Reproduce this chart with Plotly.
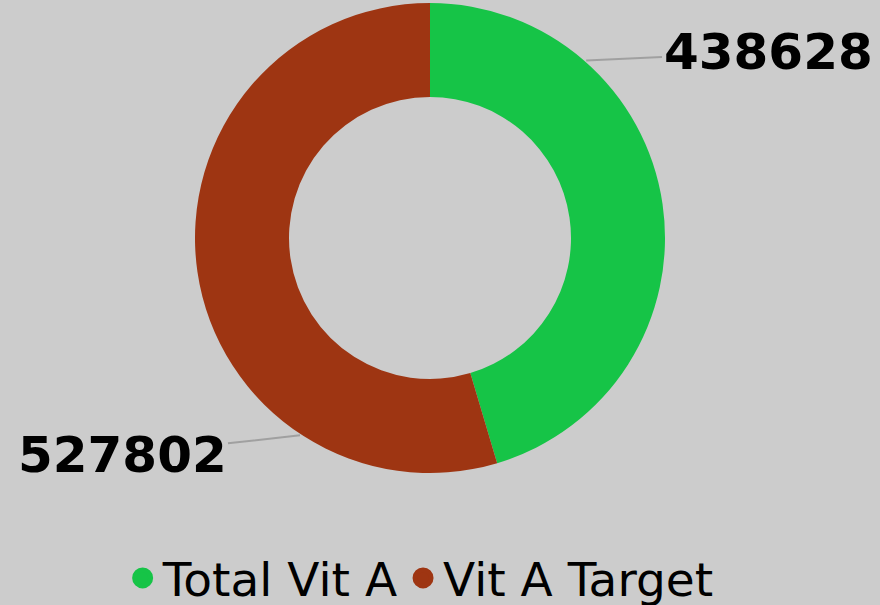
"""Vit A donut — total vs target"""
import math

import plotly.graph_objects as go

# data
labels = ["Total Vit A", "Vit A Target"]
values = [438628, 527802]
colors = ["#16c447", "#9e3512"]

# where the leader lines touch the ring (deg, clockwise from 12 o'clock)
label_angles = [41, 213]
# label centres in px
label_pos = [(768, 52), (122, 455)]

W, H = 880, 605
CX, CY, R = 430, 238, 235  # pie centre and radius in px

fig = go.Figure()

fig.add_trace(
    go.Pie(
        labels=labels,
        values=values,
        hole=0.6,
        sort=False,
        direction="clockwise",
        rotation=0,
        marker=dict(colors=colors, line=dict(width=0)),
        textinfo="none",
        hoverinfo="label+value",
        showlegend=False,
        domain=dict(
            x=[(CX - R) / W, (CX + R) / W],
            y=[(H - CY - R) / H, (H - CY + R) / H],
        ),
    )
)

# legend entries with round markers
for name, col in zip(labels, colors):
    fig.add_trace(
        go.Scatter(
            x=[None], y=[None], mode="markers", name=name,
            marker=dict(color=col, size=16, symbol="circle",
                        line=dict(color=col, width=5)),
        )
    )

# outside value labels with leader lines
for val, ang, (tx, ty) in zip(values, label_angles, label_pos):
    a = math.radians(ang)
    px = CX + R * math.sin(a)
    py = CY - R * math.cos(a)
    fig.add_annotation(
        x=px / W, y=1 - py / H, xref="paper", yref="paper",
        text=f"<b>{val}</b>",
        showarrow=True, arrowhead=0, arrowwidth=2, arrowcolor="#a0a0a0",
        ax=tx - px, ay=ty - py, standoff=2,
        font=dict(family="DejaVu Sans", size=50, color="#000000"),
    )

fig.update_layout(
    width=W, height=H,
    paper_bgcolor="#cccccc",
    plot_bgcolor="#cccccc",
    margin=dict(t=0, b=0, l=0, r=0, autoexpand=False),
    xaxis=dict(visible=False),
    yaxis=dict(visible=False),
    font=dict(family="DejaVu Sans", color="#000000"),
    legend=dict(
        orientation="h",
        x=0.478, xanchor="center",
        y=-0.018, yanchor="bottom",
        font=dict(size=47),
        itemwidth=30,
        bgcolor="rgba(0,0,0,0)",
    ),
)

fig.write_html(
    "out.html",
    config={"displayModeBar": False},
    post_script="document.body.style.margin='0';document.body.style.background='#cccccc';",
)
